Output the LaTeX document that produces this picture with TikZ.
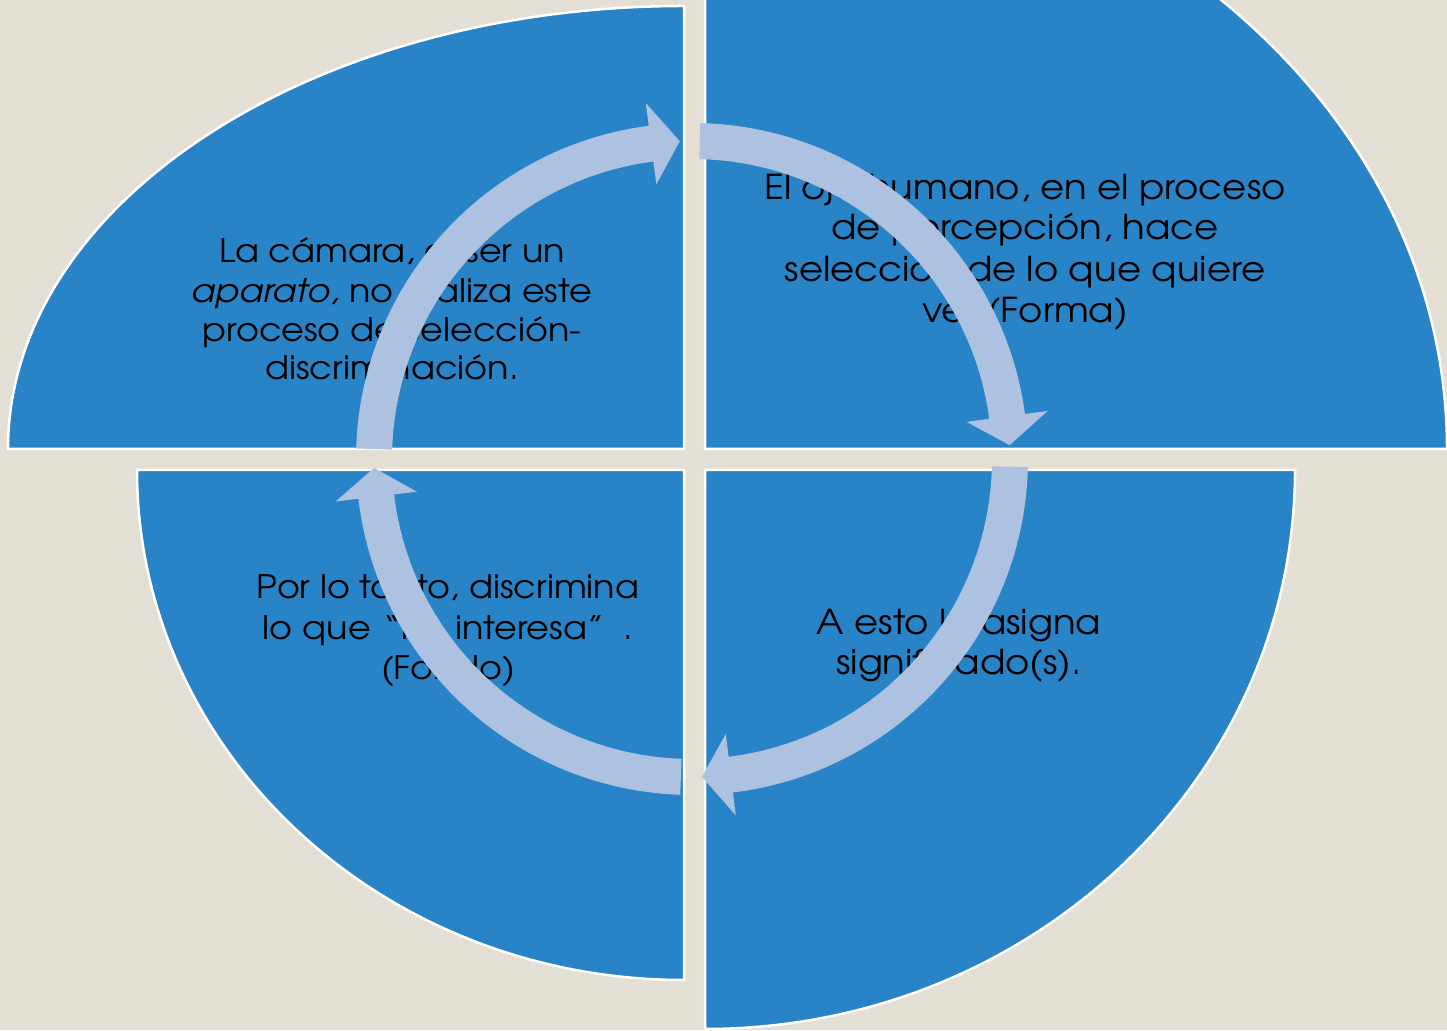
\documentclass[tikz,border=0pt]{standalone}
\usepackage{fontspec}
\setmainfont{TeX Gyre Adventor}[FakeStretch=1.08]
\definecolor{bgc}{HTML}{E4DFD4}
\definecolor{quadc}{HTML}{2884C6}
\definecolor{arrc}{HTML}{ADC2E1}
\newcommand\cyclearrow[3]{%
  \path[arrowshape] ([shift={(ctr)}]#1:336pt) arc[start angle=#1, end angle=#2, radius=336pt]
    -- ([shift={(ctr)}]#2:359pt) -- ([shift={(ctr)}]#3:318pt) -- ([shift={(ctr)}]#2:277pt)
    -- ([shift={(ctr)}]#2:300pt) arc[start angle=#2, end angle=#1, radius=300pt] -- cycle;}
\begin{document}
\begin{tikzpicture}[x=1pt,y=1pt,
  quad/.style={fill=quadc, draw=white, line width=2.5pt},
  arrowshape/.style={fill=arrc},
  txt/.style={anchor=base, inner sep=0pt, text=black, font=\fontsize{32.4}{39}\selectfont},
  txtbig/.style={txt, font=\fontsize{34.3}{41}\selectfont}]
\useasboundingbox (0,0) rectangle (1447,1030);
\fill[bgc] (0,0) rectangle (1447,1030);
\begin{scope}
\clip (0,0) rectangle (1447,1030);
% quadrants
\path[quad] (684,581) -- (8,581) arc[start angle=180, end angle=90, x radius=676pt, y radius=443pt] -- cycle;
\path[quad] (705,581) -- (1447,581) arc[start angle=0, end angle=90, x radius=742pt, y radius=625pt] -- cycle;
\path[quad] (705,560) -- (1295,560) arc[start angle=0, end angle=-90, x radius=590pt, y radius=559pt] -- cycle;
\path[quad] (684,560) -- (137,560) arc[start angle=180, end angle=270, x radius=547pt, y radius=510pt] -- cycle;
\end{scope}
% texts
\node[txt] (tl1) at (392,767) {La cámara, al ser un};
\node[txt] (tl2) at (392,727) {\textit{aparato,} no realiza este};
\node[txt] (tl3) at (392,688) {proceso de selección-};
\node[txt] (tl4) at (392,650) {discriminación.};
\node[txtbig] (tr1) at (1025,830) {El ojo humano, en el proceso};
\node[txtbig] (tr2) at (1025,790) {de percepción, hace};
\node[txtbig] (tr3) at (1025,748) {selección de lo que quiere};
\node[txtbig] (tr4) at (1025,707) {ver (Forma)};
\node[txtbig] (br1) at (959,395) {A esto le asigna};
\node[txtbig] (br2) at (959,355) {significado(s).};
\node[txt] (bl1) at (448,431) {Por lo tanto, discrimina};
\node[txt] (bl2) at (448,390) {lo que\hspace{0.1em} “no interesa”\hspace{0.6em}.};
\node[txt] (bl3) at (448,350) {(Fondo)};
% circular arrows
\coordinate (ctr) at (692,571);
\cyclearrow{178.2}{97.4}{92.2}
\cyclearrow{88.6}{7.7}{2.5}
\cyclearrow{-1.4}{-83.0}{-88.2}
\cyclearrow{-92.0}{-173.2}{-178.4}
\end{tikzpicture}
\end{document}
